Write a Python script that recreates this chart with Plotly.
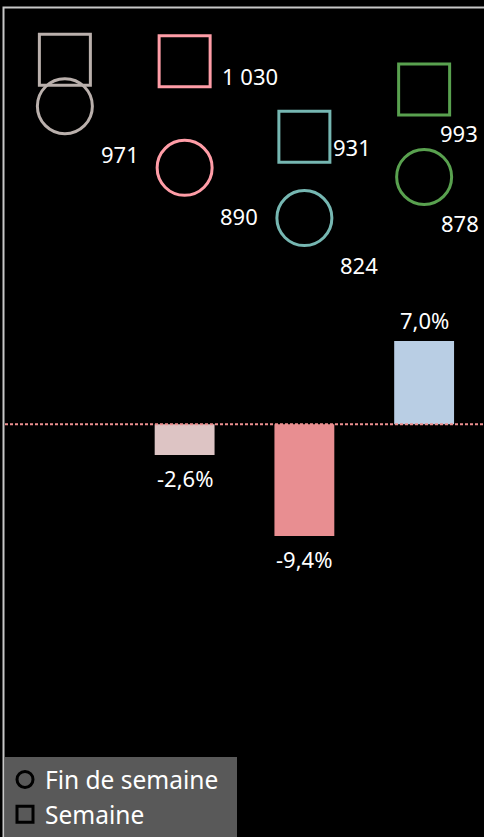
import plotly.graph_objects as go

# ---------------- data ----------------
categories = ["Période 1", "Période 2", "Période 3", "Période 4"]
semaine = [1032, 1030, 931, 993]            # squares
fin_de_semaine = [971, 890, 824, 878]       # circles
variation_pct = [None, -2.6, -9.4, 7.0]     # bars
semaine_label_visible = [False, True, True, True]

# ---------------- style ----------------
FONT = "Noto Sans"
marker_colors = ["#bab0ac", "#ff9da7", "#76b7b2", "#59a14f"]
bar_colors = ["rgba(0,0,0,0)", "#ddc4c4", "#e88e91", "#b9cee4"]
sem_shift = [(0, 0), (65, -15), (48, -10), (35, -44)]
fin_shift = [(55, -48), (54, -48), (55, -47), (36, -46)]


def fr_int(v):
    return f"{v:,}".replace(",", " ")


def fr_pct(v):
    return f"{v:.1f}%".replace(".", ",")


fig = go.Figure()

fig.add_trace(go.Bar(
    x=categories, y=variation_pct, width=0.5,
    marker=dict(color=bar_colors, line=dict(width=0)),
    showlegend=False, hoverinfo="skip", yaxis="y",
))

fig.add_trace(go.Scatter(
    x=categories, y=semaine, mode="markers", yaxis="y2",
    marker=dict(symbol="square-open", size=51, color=marker_colors, line=dict(width=3)),
    showlegend=False, hoverinfo="skip",
))
fig.add_trace(go.Scatter(
    x=categories, y=fin_de_semaine, mode="markers", yaxis="y2",
    marker=dict(symbol="circle-open", size=55, color=marker_colors, line=dict(width=3)),
    showlegend=False, hoverinfo="skip",
))

# legend entries
fig.add_trace(go.Scatter(
    x=[None], y=[None], mode="markers", name="Fin de semaine\u00a0\u00a0", legendgroup="fin",
    marker=dict(symbol="circle-open", size=16, color="black", line=dict(width=3)),
))
fig.add_trace(go.Scatter(
    x=[None], y=[None], mode="markers", name="Semaine", legendgroup="sem",
    marker=dict(symbol="square-open", size=16, color="black", line=dict(width=3)),
))

annotations = []
for i, c in enumerate(categories):
    if semaine_label_visible[i]:
        annotations.append(dict(
            x=c, y=semaine[i], xref="x", yref="y2", text=fr_int(semaine[i]),
            showarrow=False, xanchor="center", yanchor="middle",
            xshift=sem_shift[i][0], yshift=sem_shift[i][1],
            font=dict(family=FONT, size=22, color="white"),
        ))
    annotations.append(dict(
        x=c, y=fin_de_semaine[i], xref="x", yref="y2", text=fr_int(fin_de_semaine[i]),
        showarrow=False, xanchor="center", yanchor="middle",
        xshift=fin_shift[i][0], yshift=fin_shift[i][1],
        font=dict(family=FONT, size=22, color="white"),
    ))
    v = variation_pct[i]
    if v is not None:
        annotations.append(dict(
            x=c, y=v, xref="x", yref="y", text=fr_pct(v),
            showarrow=False, xanchor="center", yanchor="middle",
            yshift=21 if v >= 0 else -23,
            font=dict(family=FONT, size=22, color="white"),
        ))

W, H = 484, 837
L, T = 5, 9
pw, ph = W - L, H - T

shapes = [
    # zero reference line
    dict(type="line", xref="paper", yref="y", x0=0, x1=1, y0=0, y1=0,
         line=dict(color="#ee9090", width=2, dash="3px,2px"), layer="above"),
    # frame (top and left edges visible)
    dict(type="rect", xref="paper", yref="paper",
         x0=-1.5 / pw, x1=1 + 20 / pw, y0=-20 / ph, y1=1 + 1.5 / ph,
         line=dict(color="#c8c8c8", width=2), fillcolor="rgba(0,0,0,0)", layer="above"),
]

hidden = dict(showgrid=False, zeroline=False, showticklabels=False, showline=False, ticks="")

fig.update_layout(
    width=W, height=H,
    margin=dict(l=L, r=0, t=T, b=0, pad=0),
    paper_bgcolor="black", plot_bgcolor="black",
    font=dict(family=FONT, color="white"),
    xaxis=dict(type="category", range=[-0.5, 3.5], **hidden),
    yaxis=dict(range=[-34.7, 34.9], **hidden),
    yaxis2=dict(range=[10.3, 1098.8], overlaying="y", **hidden),
    showlegend=True,
    legend=dict(
        x=0, y=0, xanchor="left", yanchor="bottom",
        bgcolor="#595959", borderwidth=0,
        font=dict(family=FONT, size=24.5, color="white"),
        tracegroupgap=0, itemsizing="trace",
    ),
    annotations=annotations,
    shapes=shapes,
)

fig.write_html(
    "out.html",
    config={"displayModeBar": False},
    post_script="document.body.style.margin='0';document.body.style.overflow='hidden';",
)
